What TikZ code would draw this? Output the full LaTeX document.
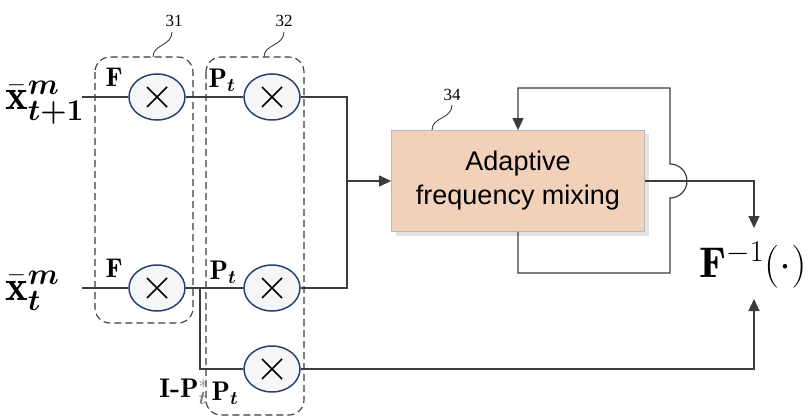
\RequirePackage{fix-cm}
\documentclass[tikz,border=0pt]{standalone}
\usepackage{amsmath,amssymb,bm}
\usepackage{fontspec}
\newfontfamily\boxfont{Liberation Sans}
\newfontfamily\numfont{Liberation Serif}
\usetikzlibrary{arrows.meta,shapes.geometric,shadows}

\definecolor{circblue}{RGB}{40,66,112}
\definecolor{circfill}{RGB}{246,246,248}
\definecolor{peach}{RGB}{242,209,186}
\definecolor{wirecol}{RGB}{60,60,60}

\begin{document}
\begin{tikzpicture}[x=1pt, y=-1pt,
  wire/.style={draw=wirecol, line width=1.2pt},
  tip/.style={-{Triangle[length=12pt,width=11pt]}},
  mult/.style={ellipse, draw=circblue, line width=1.5pt, fill=circfill,
    minimum width=56pt, minimum height=46pt, inner sep=0pt,
    path picture={\draw[line width=1.5pt, black]
      ([shift={(-10pt,-10pt)}]path picture bounding box.center) -- ([shift={(10pt,10pt)}]path picture bounding box.center)
      ([shift={(-10pt,10pt)}]path picture bounding box.center) -- ([shift={(10pt,-10pt)}]path picture bounding box.center);}},
  grp/.style={draw=wirecol, line width=1.1pt, dash pattern=on 7pt off 4pt, rounded corners=15pt},
  lbl/.style={font=\fontsize{27}{27}\selectfont, inner sep=0pt},
  big/.style={font=\fontsize{43}{43}\selectfont, inner sep=0pt},
  tag/.style={font=\numfont\fontsize{17}{17}\selectfont, inner sep=0pt},
  squig/.style={draw=wirecol, line width=0.9pt},
  mixbox/.style={draw=gray!55, fill=peach, line width=0.8pt, align=center,
    minimum width=253pt, minimum height=101pt,
    font=\boxfont\fontsize{27}{34}\selectfont,
    drop shadow={shadow xshift=4pt, shadow yshift=-4pt, opacity=0.22}}]
  \useasboundingbox (0,0) rectangle (811,417);

  \draw[grp] (95,57) rectangle (193,323);
  \draw[grp] (206,57) rectangle (304,415);

  \node[mult] (mulFa) at (157,97) {};
  \node[mult] (mulFb) at (157,288) {};
  \node[mult] (mulPa) at (272,97) {};
  \node[mult] (mulPb) at (272,288) {};
  \node[mult] (mulPc) at (272,369) {};
  \node[mixbox] (amix) at (518,181) {Adaptive\\frequency mixing};

  \node[big, anchor=base west] (lblA) at (5,110) {$\bar{\mathbf{x}}^{\bm{m}}_{\bm{t+1}}$};
  \node[big, anchor=base west] (lblB) at (5,300) {$\bar{\mathbf{x}}^{\bm{m}}_{\bm{t}}$};
  \node[big, anchor=base] (finv) at (753,277) {$\mathbf{F}^{-1}(\cdot)$};

  \node[lbl] (fA) at (114,77) {$\mathbf{F}$};
  \node[lbl] (fB) at (114,268) {$\mathbf{F}$};
  \node[lbl] (pA) at (222,80) {$\mathbf{P}_{\bm{t}}$};
  \node[lbl] (pB) at (223,272) {$\mathbf{P}_{\bm{t}}$};
  \node[lbl] (pC) at (225,393) {$\mathbf{P}_{\bm{t}}$};
  \node[lbl] (iP) at (184,392) {$\mathbf{I}\textbf{-}\mathbf{P}_{\bm{t}}^{\color{gray}*}$};

  \node[tag] (t31) at (174,21) {31};
  \node[tag] (t32) at (284,21) {32};
  \node[tag] (t34) at (452,95) {34};
  \draw[squig] (153,57) .. controls (153,44) and (172,46) .. (172,32);
  \draw[squig] (264,57) .. controls (264,44) and (284,46) .. (284,32);
  \draw[squig] (432,130) .. controls (432,117) and (452,119) .. (452,105);

  \coordinate (inA) at (82,97);
  \coordinate (inB) at (82,288);
  \coordinate (brB) at (200,288);
  \coordinate (mrg) at (347,181);
  \coordinate (fbB) at (670,273);
  \coordinate (outT) at (754,228);
  \coordinate (outB) at (754,299);

  \draw[wire] (inA) -- (mulFa) -- (mulPa);
  \draw[wire] (inB) -- (mulFb) -- (mulPb);
  \draw[wire] (brB) |- (mulPc);
  \draw[wire] (mulPa) -| (mrg);
  \draw[wire] (mulPb) -| (mrg);
  \draw[wire, tip] (mrg) -- (amix);
  \draw[wire, tip] (amix.south) |- (fbB) -- (670,198)
    arc[start angle=90, end angle=-90, radius=17] -- (670,88) -| (amix.north);
  \draw[wire, tip] (amix.east) -| (outT);
  \draw[wire, tip] (mulPc) -| (outB);
\end{tikzpicture}
\end{document}
